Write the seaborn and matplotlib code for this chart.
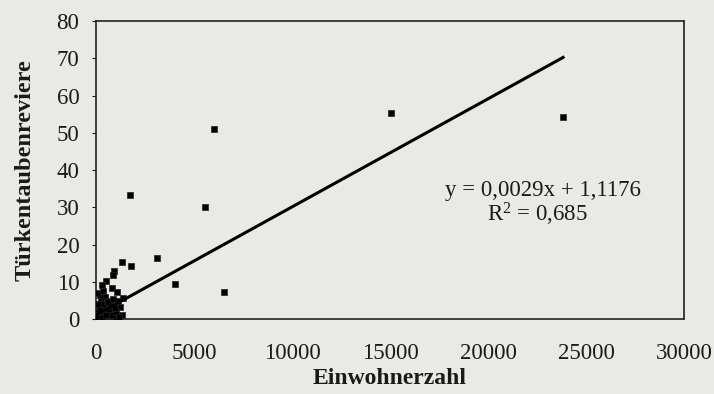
import numpy as np
import pandas as pd
import matplotlib
matplotlib.use('Agg')
import matplotlib.pyplot as plt
import seaborn as sns

# Einwohnerzahl / Türkentaubenreviere
einwohner = [15050, 23830, 6020, 1735, 5560, 3110, 1330, 1790, 4030, 6530,
             920, 870, 510, 310, 820, 1070, 1220, 1330,
             100, 200, 300, 400, 500, 600, 700, 800, 900, 150, 250, 350,
             450, 550, 650, 750, 50, 100, 200, 600, 700, 800, 1000, 1100,
             950, 120, 380, 60, 30, 850, 1150, 1400, 220, 300, 500]
reviere = [55.3, 54.2, 51.0, 33.2, 30.1, 16.4, 15.3, 14.2, 9.4, 7.2,
           13.0, 11.8, 10.3, 9.2, 8.3, 7.3, 3.3, 1.2,
           0.5, 1.0, 2.0, 0.8, 3.0, 1.5, 4.0, 2.5, 0.5, 3.5, 5.0, 4.0,
           6.0, 5.0, 2.0, 3.5, 2.0, 4.0, 6.5, 4.5, 0.8, 1.2, 2.0, 5.0,
           3.0, 7.0, 7.5, 1.0, 0.2, 5.5, 0.5, 5.8, 2.5, 0.3, 1.0]

slope = 0.0029
intercept = 1.1176
r2_text = '0,685'

df = pd.DataFrame({'Einwohnerzahl': einwohner, 'Türkentaubenreviere': reviere})

bg = '#e8ebe4'
plt.rcParams['font.family'] = ['Liberation Serif', 'DejaVu Serif']

fig = plt.figure(figsize=(7.14, 3.94), dpi=100, facecolor=bg)
ax = fig.add_axes([0.1345, 0.19, 0.8235, 0.7567])
ax.set_facecolor(bg)

sns.scatterplot(data=df, x='Einwohnerzahl', y='Türkentaubenreviere', ax=ax,
                marker='s', s=14, color='black', edgecolor='#222222', linewidth=0.5,
                zorder=3)

xs = np.array([0, max(einwohner)])
ax.plot(xs, slope * xs + intercept, color='black', linewidth=2.2, zorder=4)

ax.set_xlim(0, 30000)
ax.set_ylim(0, 80)
ax.set_xticks(range(0, 30001, 5000))
ax.set_yticks(range(0, 81, 10))
ax.tick_params(axis='x', length=0, pad=17, labelsize=16.5, colors='#1a1a1a')
ax.tick_params(axis='y', length=3, pad=9, labelsize=16.5, colors='#1a1a1a')

for sp in ax.spines.values():
    sp.set_color('#222222')
    sp.set_linewidth(1.2)

ax.set_xlabel('Einwohnerzahl', fontsize=17, fontweight='bold', labelpad=3, color='#1a1a1a')
ax.set_ylabel('Türkentaubenreviere', fontsize=17.5, fontweight='bold', labelpad=15, color='#1a1a1a')

ax.text(22800, 34.4, 'y = 0,0029x + 1,1176', ha='center', va='center', fontsize=16.5, color='#1a1a1a')
ax.text(22500, 28.2, '$\\mathregular{R^2}$ = ' + r2_text, ha='center', va='center', fontsize=16.5, color='#1a1a1a')

fig.savefig('out.png', dpi=100, facecolor=bg)
